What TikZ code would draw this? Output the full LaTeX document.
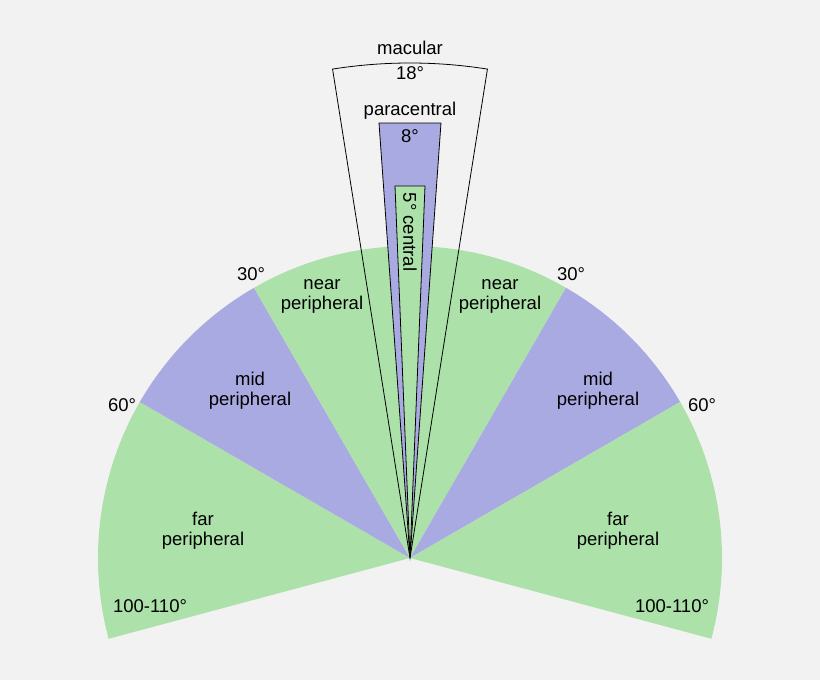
\documentclass[tikz,border=0pt]{standalone}
\usepackage{fontspec}
\setmainfont{Liberation Sans}
\definecolor{bg}{RGB}{242,242,242}
\definecolor{gr}{RGB}{172,226,170}
\definecolor{pu}{RGB}{170,170,226}
\begin{document}
\begin{tikzpicture}[x=1pt,y=-1pt,font=\fontsize{18.5}{20}\selectfont,
  lab/.style={inner sep=0pt,align=center}]
\fill[bg] (0,0) rectangle (820,680);
\useasboundingbox (0,0) rectangle (820,680);
\begin{scope}[shift={(410,558)}]
\coordinate (O) at (0,0);
\fill[gr] (O) -- (-195:312) arc[start angle=-195,end angle=-150,radius=312] -- cycle;
\fill[pu] (O) -- (-150:312) arc[start angle=-150,end angle=-120,radius=312] -- cycle;
\fill[gr] (O) -- (-120:312) arc[start angle=-120,end angle=-60,radius=312] -- cycle;
\fill[pu] (O) -- (-60:312) arc[start angle=-60,end angle=-30,radius=312] -- cycle;
\fill[gr] (O) -- (-30:312) arc[start angle=-30,end angle=15,radius=312] -- cycle;
\draw[line width=0.8pt] (O) -- (-99:495) arc[start angle=-99,end angle=-81,radius=495] -- cycle;
\draw[fill=pu,line width=0.8pt] (O) -- (-31,-435) -- (31,-435) -- cycle;
\draw[fill=gr,line width=0.8pt] (O) -- (-15,-372) -- (15,-372) -- cycle;
\end{scope}
\node[lab] (mac) at (410,48) {macular};
\node[lab] (mac2) at (410,73) {18°};
\node[lab] (par) at (410,111) {paracentral};
\node[lab] (par2) at (410,136) {8°};
\node[lab,rotate=-90] (cen) at (410,232) {5° central};
\node[lab] (nl) at (322,296) {near\\peripheral};
\node[lab] (nr) at (500,296) {near\\peripheral};
\node[lab] (a30l) at (251,274) {30°};
\node[lab] (a30r) at (571,274) {30°};
\node[lab] (ml) at (250,391) {mid\\peripheral};
\node[lab] (mr) at (598,391) {mid\\peripheral};
\node[lab] (a60l) at (122,405) {60°};
\node[lab] (a60r) at (702,405) {60°};
\node[lab] (fl) at (203,531) {far\\peripheral};
\node[lab] (fr) at (618,531) {far\\peripheral};
\node[lab] (bl) at (150,606) {100-110°};
\node[lab] (br) at (672,606) {100-110°};
\end{tikzpicture}
\end{document}
